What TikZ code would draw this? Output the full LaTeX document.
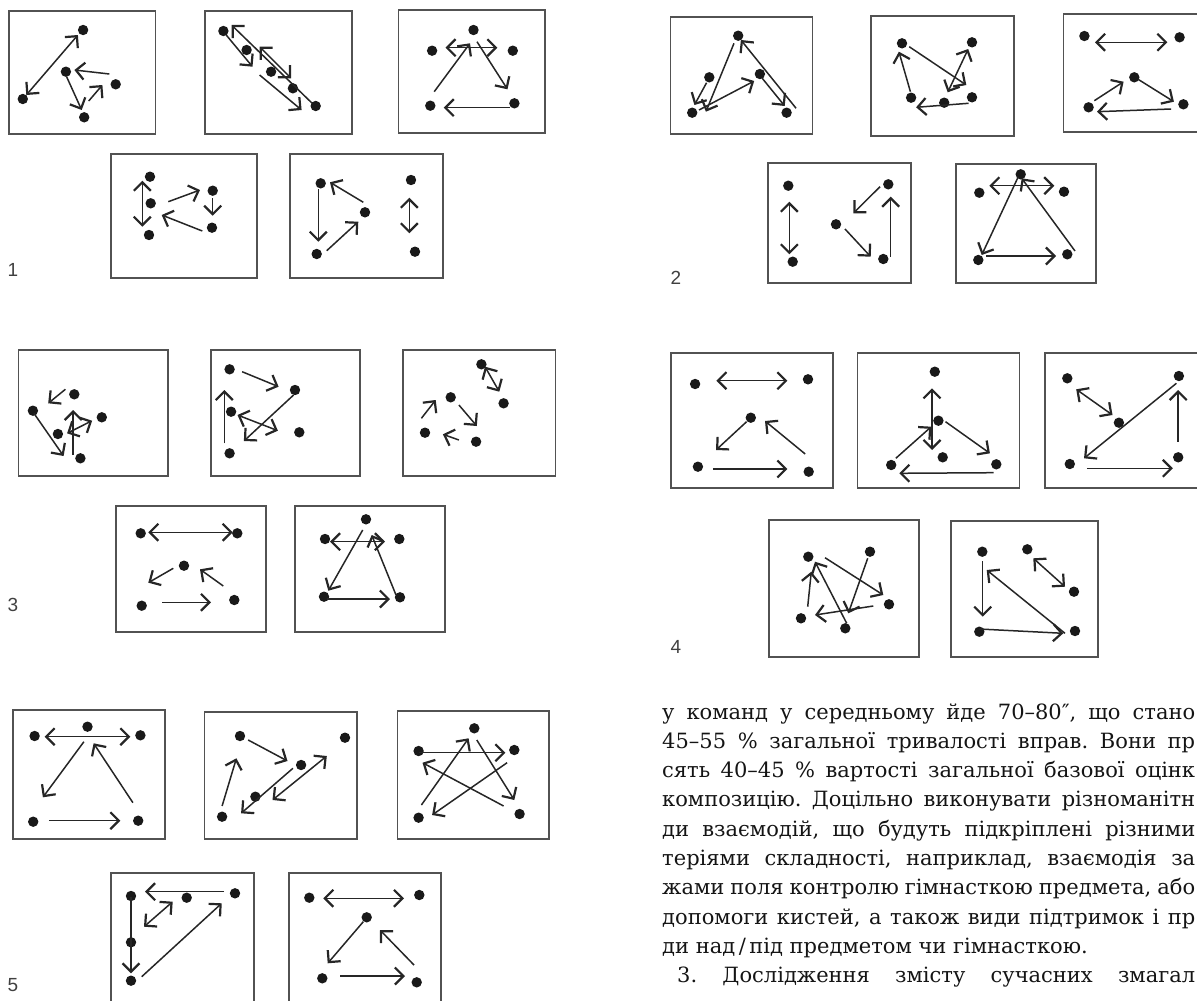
\documentclass[tikz,border=0pt]{standalone}
\usepackage{fontspec}
\setmainfont{DejaVu Serif}
\newfontfamily\numfont{Liberation Sans}
\usetikzlibrary{arrows.meta}
\frenchspacing
\tikzset{
  >={Straight Barb[length=8.5pt,width=17pt,line width=2.2pt]},
  panel/.style={draw=black!68, line width=1.7pt},
  pt/.style={fill=black!90},
  mv/.style={draw=black!85, line width=1.5pt, ->},
  mvb/.style={draw=black!85, line width=1.5pt, <->},
  fignum/.style={inner sep=0pt, font=\numfont\fontsize{19pt}{19pt}\selectfont, text=black!75},
  line/.style={inner sep=0pt, anchor=base west, font=\fontsize{21pt}{29.3pt}\selectfont, text=black!92},
}
\newcommand\players[1]{\foreach \p in {#1} \fill[pt] \p circle (5.2);}
\begin{document}
\begin{tikzpicture}[x=1pt,y=-1pt]
\path[use as bounding box] (0,0) rectangle (1197,1001);

% ---------------- figure 1 ----------------
\draw[panel] (8.8,11) rectangle (155.4,134);
\players{(83.1,30),(22.8,99),(65.9,71.7),(115.7,84.3),(84.2,117.3)}
\draw[mvb] (26.3,95) -- (77.9,35);
\draw[mv] (109.4,74) -- (74.4,70);
\draw[mv] (66.6,76.7) -- (81.7,110);
\draw[mv] (88.7,101) -- (102.4,85);

\draw[panel] (205.2,11) rectangle (351.7,134);
\players{(223.4,31),(246.6,50),(271.1,71.7),(292.9,88.3),(315.7,106)}
\draw[mv] (226.2,35) -- (252.5,66.7);
\draw[mv] (312.2,103.3) -- (231.5,25);
\draw[mvb] (259.6,46.7) -- (291.1,78.3);
\draw[mv] (259.6,75) -- (301.6,110);

\draw[panel] (398.5,10) rectangle (545,133);
\players{(473.5,30),(432.1,50.7),(512.8,50.7),(430.3,105.7),(514.4,103.3)}
\draw[mvb] (445.5,47.7) -- (497.4,47.7);
\draw[mv] (434.2,91.7) -- (470,43.3);
\draw[mv] (477,41.7) -- (507.5,89.3);
\draw[mv] (509.6,107.7) -- (443.7,107.7);

\draw[panel] (111,154.3) rectangle (256.7,278.3);
\players{(150,176.7),(150.7,203.3),(149,235),(212.7,190.7),(212,227.7)}
\draw[mvb] (142.3,180.7) -- (142.3,226.7);
\draw[mv] (168.3,201.7) -- (200,190);
\draw[mv] (212.7,198.3) -- (212.7,215.7);
\draw[mv] (202.3,231) -- (161.7,215);

\draw[panel] (290,154.3) rectangle (442.7,278.3);
\players{(320.7,183.3),(365,212.3),(411,180),(316.7,254),(415,251.7)}
\draw[mv] (318.3,189.3) -- (318.3,241.7);
\draw[mv] (326.7,250.7) -- (358.3,221.7);
\draw[mv] (363.3,202.3) -- (330,182.3);
\draw[mvb] (409.3,197.7) -- (409.3,233.3);

\node[fignum] (n1) at (13,270) {1};

% ---------------- figure 2 ----------------
\draw[panel] (670.4,16.7) rectangle (812.5,134);
\players{(738.2,35.7),(709.3,77.3),(759.9,74),(692.2,112.7),(786.6,112.7)}
\draw[mv] (706.6,82.7) -- (694.4,105);
\draw[mv] (734,43.3) -- (705.9,111.7);
\draw[mv] (699,110) -- (754.2,81);
\draw[mv] (762,78) -- (784.7,106);
\draw[mv] (796.1,108.3) -- (740.9,40);

\draw[panel] (871.1,16) rectangle (1013.9,136);
\players{(902,43.3),(972,42.3),(911.1,97.7),(944.2,102.7),(972,97.3)}
\draw[mv] (909.2,46.7) -- (966.3,85);
\draw[mvb] (968.2,49) -- (947.7,92.3);
\draw[mv] (910.4,91.7) -- (898.9,51.7);
\draw[mv] (968.6,103.3) -- (916.1,107.3);

\draw[panel] (1197,14.3) -- (1063.4,14.3) -- (1063.4,131.7) -- (1197,131.7);
\players{(1084.4,36),(1179.6,37.3),(1134.3,77.3),(1088.6,107.3),(1183.4,104.3)}
\draw[mvb] (1095,42.3) -- (1167.4,42.3);
\draw[mv] (1094.3,100.7) -- (1123.6,81.7);
\draw[mv] (1138.1,79.3) -- (1173.9,101.7);
\draw[mv] (1171.2,109) -- (1097,111.7);

\draw[panel] (768.3,163.3) rectangle (910.7,283.3);
\players{(788.3,185.7),(792.7,261.7),(836,224.3),(888.3,184.3),(883.3,259)}
\draw[mvb] (789.3,201.7) -- (789.3,254.3);
\draw[mv] (880,186.7) -- (853.3,213.3);
\draw[mv] (845,229) -- (870.7,256.7);
\draw[mv] (890.7,256.7) -- (890.7,196.7);

\draw[panel] (955.7,164.3) rectangle (1095.7,283.3);
\players{(1020.7,174.3),(979.3,192.7),(1064,191.7),(978.3,260),(1067.3,254.3)}
\draw[mvb] (989.3,185.7) -- (1054.3,185.7);
\draw[mv] (1018.3,176.7) -- (981.7,255);
\draw[mv] (986,256) -- (1056,256);
\draw[mv] (1075,251) -- (1021.7,178.3);

\node[fignum] (n2) at (676,278) {2};

% ---------------- figure 3 ----------------
\draw[panel] (18.6,350) rectangle (167.9,476);
\players{(74.3,394.3),(32.9,410.7),(101.8,417.3),(57.9,434),(80.4,458.3)}
\draw[mv] (65.4,389.3) -- (48.2,403.3);
\draw[mv] (33.9,413.3) -- (63.6,456);
\draw[mv] (73.2,455) -- (73.2,410);
\draw[mvb] (67.1,433.3) -- (92.1,420.7);

\draw[panel] (210.7,350) rectangle (360,476);
\players{(229.6,369.3),(295,390),(231.1,411.7),(299.3,432.3),(229.6,453.3)}
\draw[mv] (242.1,371.7) -- (278.6,386.7);
\draw[mv] (224.3,443.3) -- (224.3,390);
\draw[mvb] (237.5,415) -- (277.9,430.7);
\draw[mv] (293.6,395) -- (243.9,441);

\draw[panel] (402.9,350) rectangle (555.4,476);
\players{(481.4,364.3),(503.6,403.3),(450.7,397.3),(425,432.7),(476.1,441.7)}
\draw[mvb] (485,366.7) -- (499.3,391.7);
\draw[mv] (421.4,418.3) -- (435.7,400);
\draw[mv] (458.9,405) -- (476.8,426);
\draw[mv] (458.9,440) -- (442.9,434.3);

\draw[panel] (115.7,506) rectangle (265.7,632.3);
\players{(140.7,533.3),(237.3,533.3),(184,565.7),(141.7,605.7),(234.3,600)}
\draw[mvb] (148.3,532.3) -- (232.7,532.3);
\draw[mv] (173.3,568.3) -- (148.3,582.7);
\draw[mv] (223.3,586) -- (200,569.3);
\draw[mv] (162.3,602.3) -- (211,602.3);

\draw[panel] (295,506) rectangle (445,631.7);
\players{(366,519.3),(325,539),(399.3,539),(324,596.7),(400,597.3)}
\draw[mvb] (330,541.7) -- (385,541.7);
\draw[mv] (396,595) -- (371.7,535);
\draw[mv] (362.7,530) -- (328.3,590.7);
\draw[mv] (326.7,599) -- (390,599);

\node[fignum] (n3) at (13,605) {3};

% ---------------- figure 4 ----------------
\draw[panel] (670.9,352.7) rectangle (832.9,487.7);
\players{(695.1,384),(808,379.3),(750.8,417.7),(697.9,466.7),(808.7,471.7)}
\draw[mvb] (716.4,380.7) -- (787.4,380.7);
\draw[mv] (746.6,421.7) -- (716,450);
\draw[mv] (805.2,454) -- (765,421);
\draw[mv] (712.8,469) -- (787.4,469);

\draw[panel] (857.4,352.7) rectangle (1019.4,487.7);
\players{(934.8,371.7),(938.4,420.7),(942.7,457.3),(891.2,465),(996.3,464.3)}
\draw[mvb] (932,388.3) -- (932,450);
\draw[mv] (895.8,458.3) -- (931.3,426.7);
\draw[mv] (945.5,421.7) -- (989.9,453.3);
\draw[mv] (993.5,472.7) -- (899.3,473.3);

\draw[panel] (1197,352.7) -- (1045,352.7) -- (1045,487.7) -- (1197,487.7);
\players{(1067.3,378.3),(1178.9,376),(1118.9,422.7),(1069.8,464),(1178.2,457.3)}
\draw[mvb] (1076.2,389.3) -- (1112.5,415);
\draw[mv] (1176.4,383.3) -- (1084,458.3);
\draw[mv] (1178.2,441.7) -- (1178.2,390);
\draw[mv] (1086.9,468.3) -- (1172.9,468.3);

\draw[panel] (769.3,520) rectangle (919.3,656.7);
\players{(808.3,556.7),(870,551.7),(889,604.3),(801,618.3),(845.3,628.3)}
\draw[mv] (807.7,606.7) -- (811.3,571.7);
\draw[mv] (825,557.7) -- (883.3,595);
\draw[mv] (867.7,558.3) -- (848.3,613.3);
\draw[mv] (873.3,606) -- (815,615);
\draw[mv] (846.7,623.3) -- (815,561.7);

\draw[panel] (950.7,521) rectangle (1098.3,656.7);
\players{(982.3,551.7),(1027.3,549.3),(1074,591.7),(979.3,631.7),(1075,631)}
\draw[mv] (982.7,561) -- (982.7,616.7);
\draw[mvb] (1033.3,558.3) -- (1065,586.7);
\draw[mv] (979.3,629) -- (1063.3,633.3);
\draw[mv] (1065,633.3) -- (986.7,570);

\node[fignum] (n4) at (676,647) {4};

% ---------------- figure 5 ----------------
\draw[panel] (12.9,710) rectangle (165,839);
\players{(34.6,736),(87.5,726.7),(140.4,735.3),(33.2,821.7),(138.2,820.7)}
\draw[mvb] (44.6,736.7) -- (130.4,736.7);
\draw[mv] (83.9,741.7) -- (42.9,797.3);
\draw[mv] (132.9,802.7) -- (93.6,743.3);
\draw[mv] (48.9,820.7) -- (120.4,820.7);

\draw[panel] (204.6,711.7) rectangle (357.1,839);
\players{(240,736),(345,737.7),(301.1,765),(255.4,796.7),(222.1,816.7)}
\draw[mv] (248.2,740) -- (287.5,761);
\draw[mv] (222.1,806) -- (236.4,758.3);
\draw[mv] (292.9,768.3) -- (241.1,813.3);
\draw[mvb] (272.5,800) -- (326.8,756);

\draw[panel] (397.5,711) rectangle (549.3,839);
\players{(474.3,728.3),(418.6,751),(514.3,750),(418.6,817.7),(519.6,814)}
\draw[mv] (418.6,752.7) -- (505.4,752.7);
\draw[mv] (421.4,805) -- (468.6,738.3);
\draw[mv] (476.8,740) -- (514.3,800);
\draw[mv] (507.1,762.7) -- (432.1,815);
\draw[mv] (503.6,806) -- (422.5,762.7);

\draw[panel] (111,1001) -- (111,873.3) -- (254,873.3) -- (254,1001);
\players{(131,896),(186.7,897.7),(235,893.3),(131,942.3),(131,980.7)}
\draw[mv] (224,891.7) -- (145,891.7);
\draw[mvb] (172.7,901.7) -- (144,926.7);
\draw[mv] (131,896.7) -- (131,973.3);
\draw[mv] (141.7,976.7) -- (221.7,903.3);

\draw[panel] (289,1001) -- (289,873.3) -- (440.7,873.3) -- (440.7,1001);
\players{(309.3,897.7),(419.3,895),(366.7,917.3),(322.3,978.3),(416.7,982.3)}
\draw[mvb] (323.3,898.3) -- (404,898.3);
\draw[mv] (363.3,921.7) -- (327.7,963.3);
\draw[mv] (414,965) -- (380,930);
\draw[mv] (340,976) -- (405,976);

\node[fignum] (n5) at (13,985) {5};

% ---------------- running text ----------------
\node[line] (t1) at (662,719.0) {\makebox[533pt][s]{у команд у середньому йде 70–80″, що стано}};
\node[line] (t2) at (662,748.3) {\makebox[533pt][s]{45–55 \% загальної тривалості вправ. Вони пр}};
\node[line] (t3) at (662,777.6) {\makebox[533pt][s]{сять 40–45 \% вартості загальної базової оцінк}};
\node[line] (t4) at (662,806.9) {\makebox[533pt][s]{композицію. Доцільно виконувати різноманітн}};
\node[line] (t5) at (662,836.2) {\makebox[533pt][s]{ди взаємодій, що будуть підкріплені різними}};
\node[line] (t6) at (662,865.5) {\makebox[533pt][s]{теріями складності, наприклад, взаємодія за}};
\node[line] (t7) at (662,894.8) {\makebox[533pt][s]{жами поля контролю гімнасткою предмета, або}};
\node[line] (t8) at (662,924.1) {\makebox[533pt][s]{допомоги кистей, а також види підтримок і пр}};
\node[line] (t9) at (662,953.4) {ди над\,/\,під предметом чи гімнасткою.};
\node[line] (t10) at (677,982.7) {\makebox[518pt][s]{3. Дослідження змісту сучасних змагал}};
\end{tikzpicture}
\end{document}
